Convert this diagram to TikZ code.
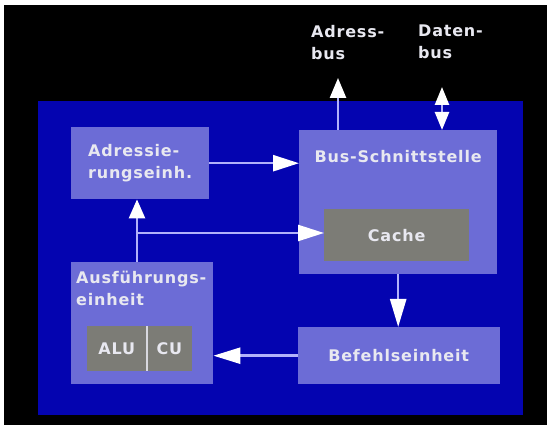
\documentclass[tikz,border=0pt]{standalone}
\usepackage{fontspec}
\newfontfamily\chipfont{DejaVu Sans Bold}[LetterSpace=5]
\usetikzlibrary{arrows.meta, positioning}
\definecolor{chipblue}{RGB}{4,4,176}
\definecolor{unitblue}{RGB}{108,108,214}
\definecolor{cachegray}{RGB}{124,124,118}
\definecolor{wirecol}{RGB}{178,178,250}
\definecolor{textcol}{RGB}{232,232,240}

\begin{document}
\begin{tikzpicture}[x=1pt, y=-1pt,
  lbl/.style={font=\chipfont\fontsize{16}{22}\selectfont, text=textcol,
              inner sep=0pt, align=left},
  unit/.style={rectangle, fill=unitblue, inner sep=0pt, anchor=north west, lbl},
  grayunit/.style={rectangle, fill=cachegray, inner sep=0pt, anchor=north west, lbl},
  arr/.style={draw=wirecol, line width=2.5pt,
              -{Triangle[length=#1, width=16pt, color=white]}},
  arr/.default=26pt,
  dblarr/.style={draw=wirecol, line width=2.5pt,
              {Triangle[length=18pt, width=14pt, color=white]}-{Triangle[length=18pt, width=14pt, color=white]}}
]
  % frame and chip
  \useasboundingbox (0,0) rectangle (547,427);
  \fill[white] (0,0) rectangle (547,427);
  \fill[black] (4,5) rectangle (547,425);
  \fill[chipblue] (38,101) rectangle (523,415);

  % units
  \node[unit, minimum width=138pt, minimum height=72pt] (adr) at (71,127)
    {Adressie-\\rungseinh.};
  \node[unit, minimum width=198pt, minimum height=144pt] (bus) at (299,130) {};
  \node[lbl, below=20pt of bus.north] (bustxt) {Bus-Schnittstelle};
  \node[grayunit, minimum width=145pt, minimum height=52pt] (cache) at (324,209) {Cache};
  \node[unit, minimum width=142pt, minimum height=122pt] (ausf) at (71,262) {};
  \node[lbl, below right=9pt and 5pt of ausf.north west] (ausftxt)
    {Ausführungs-\\einheit};
  \node[grayunit, minimum width=60pt, minimum height=45pt] (alu) at (86.5,326) {ALU};
  \node[grayunit, minimum width=44.5pt, minimum height=45pt, right=0pt of alu] (cu) {CU};
  \draw[draw=textcol!85!gray, line width=1.5pt] (alu.north east) -- (alu.south east);
  \node[unit, minimum width=202pt, minimum height=57pt] (bef) at (297.5,327)
    {Befehlseinheit};

  % buses
  \node[lbl, anchor=north west] (abustxt) at (311,25) {Adress-\\bus};
  \node[lbl, anchor=north west] (dbustxt) at (418,25) {Daten-\\bus};
  \coordinate (abus) at (338,78);
  \coordinate (dbus) at (442,87);
  \coordinate (jn) at (137,233);

  % connections
  \draw[arr=20pt] (bus.north -| abus) -- (abus);
  \draw[dblarr] (bus.north -| dbus) -- (dbus);
  \draw[arr] (adr.east) -- (adr.east -| bus.west);
  \draw[arr=19pt] (jn |- ausf.north) -- (jn |- adr.south);
  \draw[arr] (jn) -- (jn -| cache.west);
  \draw[arr=28pt] (bus.south) -- (bus.south |- bef.north);
  \draw[arr=27pt] (bef.west) -- (bef.west -| ausf.east);
\end{tikzpicture}
\end{document}
